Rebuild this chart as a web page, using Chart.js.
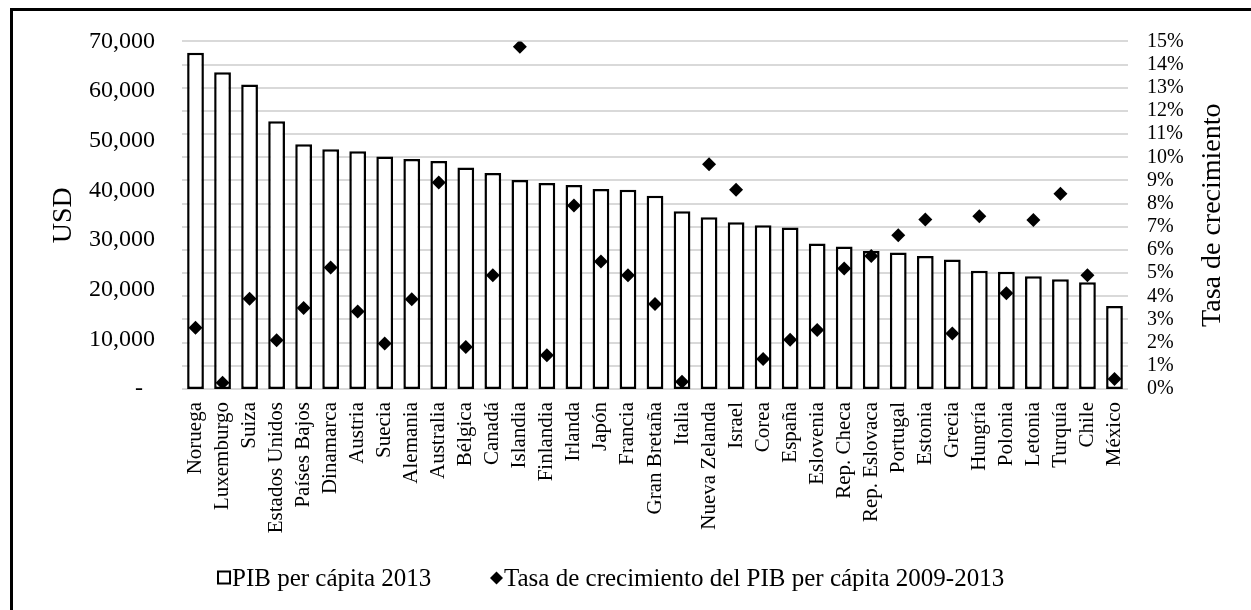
<!DOCTYPE html>
<html>
<head>
<meta charset="utf-8">
<script src="https://cdn.jsdelivr.net/npm/chart.js@4"></script>
<style>
  html, body { margin: 0; padding: 0; background: #fff; overflow: hidden; }
  #wrap { position: relative; width: 1251px; height: 610px; }
  #c { position: absolute; left: 0; top: 0; }
  #frame { position: absolute; left: 10px; top: 8px; width: 1400px; height: 800px;
           border: 3px solid #000; pointer-events: none; box-sizing: border-box; }
</style>
</head>
<body>
<div id="wrap">
  <canvas id="c" width="1251" height="610"></canvas>
  <div id="frame"></div>
</div>
<script>
const categories = ['Noruega','Luxemburgo','Suiza','Estados Unidos','Países Bajos','Dinamarca','Austria','Suecia','Alemania','Australia','Bélgica','Canadá','Islandia','Finlandia','Irlanda','Japón','Francia','Gran Bretaña','Italia','Nueva Zelanda','Israel','Corea','España','Eslovenia','Rep. Checa','Rep. Eslovaca','Portugal','Estonia','Grecia','Hungría','Polonia','Letonia','Turquía','Chile','México'];

const pibPerCapita2013 = [67700, 63800, 61300, 53900, 49300, 48300, 47900, 46800, 46300, 45900, 44600, 43500, 42100, 41500, 41100, 40300, 40100, 38900, 35800, 34600, 33600, 33000, 32500, 29300, 28700, 27800, 27500, 26800, 26100, 23800, 23600, 22700, 22100, 21500, 16700];

const tasaCrecimiento = [2.64, 0.27, 3.89, 2.10, 3.50, 5.24, 3.34, 1.96, 3.87, 8.91, 1.81, 4.91, 14.77, 1.46, 7.92, 5.50, 4.91, 3.67, 0.31, 9.70, 8.60, 1.29, 2.13, 2.55, 5.20, 5.74, 6.63, 7.31, 2.39, 7.46, 4.13, 7.29, 8.43, 4.91, 0.43];

const seriesLabels = ['PIB per cápita 2013', 'Tasa de crecimiento del PIB per cápita 2009-2013'];
const axisTitles = { left: 'USD', right: 'Tasa de crecimiento' };
const leftTicks = { min: 0, max: 70000, step: 10000 };
const rightTicks = { min: 0, max: 15, step: 1 };

const FONT = "'Liberation Serif', 'Times New Roman', serif";

const extrasPlugin = {
  id: 'extras',
  afterDraw(chart) {
    const ctx = chart.ctx;
    const a = chart.chartArea;
    const midY = (a.top + a.bottom) / 2;
    ctx.save();
    ctx.fillStyle = '#000';
    ctx.font = "28px " + FONT;
    ctx.textAlign = 'center';
    ctx.textBaseline = 'alphabetic';
    // left axis title
    ctx.save();
    ctx.translate(71, midY);
    ctx.rotate(-Math.PI / 2);
    ctx.fillText(axisTitles.left, 0, 0);
    ctx.restore();
    // right axis title
    ctx.save();
    ctx.translate(1220, midY);
    ctx.rotate(-Math.PI / 2);
    ctx.fillText(axisTitles.right, 0, 0);
    ctx.restore();

    // legend
    const ly = 578;
    ctx.font = "25px " + FONT;
    ctx.textAlign = 'left';
    ctx.textBaseline = 'middle';
    // square marker
    ctx.fillStyle = '#fff';
    ctx.strokeStyle = '#000';
    ctx.lineWidth = 2;
    ctx.fillRect(218, ly - 6.5, 12, 12);
    ctx.strokeRect(218, ly - 6.5, 12, 12);
    ctx.fillStyle = '#000';
    ctx.fillText(seriesLabels[0], 232, ly + 1);
    // diamond marker
    ctx.beginPath();
    ctx.moveTo(496.5, ly - 6.5);
    ctx.lineTo(503, ly);
    ctx.lineTo(496.5, ly + 6.5);
    ctx.lineTo(490, ly);
    ctx.closePath();
    ctx.fill();
    ctx.fillText(seriesLabels[1], 504, ly + 1);
    ctx.restore();
  }
};

new Chart(document.getElementById('c'), {
  data: {
    labels: categories,
    datasets: [
      {
        type: 'line',
        label: seriesLabels[1],
        data: tasaCrecimiento,
        yAxisID: 'y1',
        showLine: false,
        pointStyle: 'rectRot',
        pointRadius: 7,
        pointHoverRadius: 7,
        backgroundColor: '#000',
        borderColor: '#000',
        borderWidth: 0,
        order: 0
      },
      {
        type: 'bar',
        label: seriesLabels[0],
        data: pibPerCapita2013,
        yAxisID: 'y',
        backgroundColor: '#fff',
        borderColor: '#000',
        borderWidth: 2.5,
        borderSkipped: false,
        barPercentage: 0.62,
        categoryPercentage: 1.0,
        order: 1
      }
    ]
  },
  options: {
    responsive: false,
    animation: false,
    devicePixelRatio: 1,
    layout: { padding: { top: 39, left: 0, right: 0, bottom: 0 } },
    plugins: {
      legend: { display: false },
      tooltip: { enabled: false },
      title: { display: false }
    },
    scales: {
      x: {
        offset: true,
        grid: { display: false, drawTicks: false },
        border: { display: false },
        ticks: {
          autoSkip: false,
          minRotation: 90,
          maxRotation: 90,
          padding: 13,
          color: '#000',
          font: { family: FONT, size: 21 }
        },
        afterFit(scale) { scale.height = 221; }
      },
      y: {
        position: 'left',
        min: leftTicks.min,
        max: leftTicks.max,
        grid: { display: false, drawTicks: false },
        border: { display: false },
        ticks: {
          autoSkip: false,
          stepSize: leftTicks.step,
          padding: 27,
          color: '#000',
          font: { family: FONT, size: 24 },
          callback: (v) => v === 0 ? '-  ' : v.toLocaleString('en-US')
        },
        afterFit(scale) { scale.width = 182; }
      },
      y1: {
        position: 'right',
        min: rightTicks.min,
        max: rightTicks.max,
        grid: { display: true, drawTicks: false, color: '#d9d9d9', lineWidth: 2 },
        border: { display: false },
        ticks: {
          autoSkip: false,
          stepSize: rightTicks.step,
          padding: 19,
          color: '#000',
          font: { family: FONT, size: 20 },
          callback: (v) => v + '%'
        },
        afterFit(scale) { scale.width = 123; }
      }
    }
  },
  plugins: [extrasPlugin]
});
</script>
</body>
</html>
